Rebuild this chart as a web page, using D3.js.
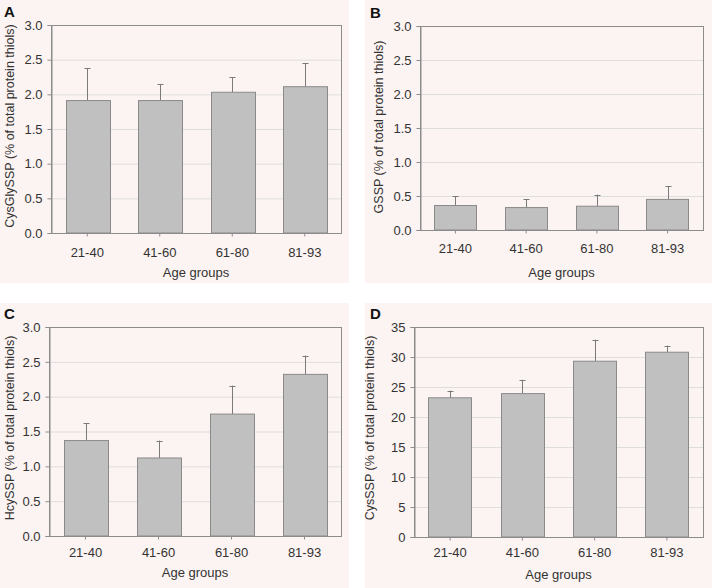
<!DOCTYPE html>
<html>
<head>
<meta charset="utf-8">
<script src="https://cdn.jsdelivr.net/npm/d3@7"></script>
<style>
  body { margin: 0; background: #ffffff; }
  svg { display: block; font-family: "Liberation Sans", Arial, sans-serif; }
</style>
</head>
<body>
<svg id="mySvg"></svg>
<script>
// data
const ageGroups = ["21-40", "41-60", "61-80", "81-93"];

const cysGlyMean = [1.91, 1.91, 2.03, 2.11];
const cysGlySd = [0.47, 0.24, 0.22, 0.34];

const gsspMean = [0.36, 0.33, 0.35, 0.45];
const gsspSd = [0.14, 0.12, 0.17, 0.19];

const hcyMean = [1.37, 1.12, 1.75, 2.32];
const hcySd = [0.25, 0.25, 0.41, 0.27];

const cysMean = [23.2, 23.9, 29.3, 30.8];
const cysSd = [1.2, 2.3, 3.6, 1.1];

const smallTicks = [0, 0.5, 1.0, 1.5, 2.0, 2.5, 3.0];
const cysTicks = [0, 5, 10, 15, 20, 25, 30, 35];

const width = 712;
const height = 588;

const svg = d3.select("#mySvg").attr("width", width).attr("height", height);

// panel boxes and plot areas
const panels = [
  { letter: "A", mean: cysGlyMean, sd: cysGlySd, ticks: smallTicks, max: 3, fmt: d3.format(".1f"),
    label: "CysGlySSP (% of total protein thiols)",
    bg: [0, 0, 349, 283], plot: [51, 25, 341, 233], labelX: 10, labelY: 126, tickY: 252, titleY: 272 },
  { letter: "B", mean: gsspMean, sd: gsspSd, ticks: smallTicks, max: 3, fmt: d3.format(".1f"),
    label: "GSSP (% of total protein thiols)",
    bg: [365, 0, 712, 283], plot: [420, 26, 703, 230], labelX: 379, labelY: 127, tickY: 248, titleY: 272 },
  { letter: "C", mean: hcyMean, sd: hcySd, ticks: smallTicks, max: 3, fmt: d3.format(".1f"),
    label: "HcySSP (% of total protein thiols)",
    bg: [0, 303, 349, 588], plot: [49, 327, 341, 536], labelX: 10, labelY: 428, tickY: 552, titleY: 572 },
  { letter: "D", mean: cysMean, sd: cysSd, ticks: cysTicks, max: 35, fmt: d3.format("d"),
    label: "CysSSP (% of total protein thiols)",
    bg: [365, 303, 712, 588], plot: [414, 327, 703, 537], labelX: 370, labelY: 428, tickY: 552, titleY: 574 }
];

const textColor = "#333";
const frameColor = "#8c8c8c";

panels.forEach(p => {
  const [bx0, by0, bx1, by1] = p.bg;
  const [x0, y0, x1, y1] = p.plot;

  svg.append("rect")
    .attr("x", bx0).attr("y", by0)
    .attr("width", bx1 - bx0).attr("height", by1 - by0)
    .attr("fill", "#fcf4f2");

  const xScale = d3.scaleBand().domain(ageGroups).range([x0, x1]).paddingInner(0.4).paddingOuter(0.2);
  const yScale = d3.scaleLinear().domain([0, p.max]).range([y1, y0]);

  // gridlines
  svg.append("g")
    .selectAll("line")
    .data(p.ticks.slice(1))
    .enter()
    .append("line")
    .attr("x1", x0).attr("x2", x1)
    .attr("y1", d => yScale(d) + 0.5).attr("y2", d => yScale(d) + 0.5)
    .attr("stroke", "#dedede");

  // frame
  svg.append("rect")
    .attr("x", x0 + 0.5).attr("y", y0 + 0.5)
    .attr("width", x1 - x0).attr("height", y1 - y0)
    .attr("fill", "none")
    .attr("stroke", frameColor);

  // error bars (upper only)
  const data = ageGroups.map((g, i) => ({ g, m: p.mean[i], s: p.sd[i] }));
  const cx = d => Math.round(xScale(d.g) + xScale.bandwidth() / 2) + 0.5;

  const err = svg.append("g").attr("stroke", "#7a7a7a");
  err.selectAll(".stem")
    .data(data).enter().append("line")
    .attr("x1", cx).attr("x2", cx)
    .attr("y1", d => yScale(d.m)).attr("y2", d => yScale(d.m + d.s));
  err.selectAll(".cap")
    .data(data).enter().append("line")
    .attr("x1", d => cx(d) - 3).attr("x2", d => cx(d) + 3)
    .attr("y1", d => Math.round(yScale(d.m + d.s)) + 0.5)
    .attr("y2", d => Math.round(yScale(d.m + d.s)) + 0.5);

  svg.selectAll(".bar" + p.letter)
    .data(data)
    .enter()
    .append("rect")
    .attr("x", d => Math.round(xScale(d.g)) + 0.5)
    .attr("y", d => yScale(d.m))
    .attr("width", Math.round(xScale.bandwidth()))
    .attr("height", d => y1 - yScale(d.m))
    .attr("fill", "#c0c0c0")
    .attr("stroke", "#8a8a8a");

  // y axis
  const yAxis = svg.append("g")
    .attr("transform", `translate(${x0 + 0.5},0)`)
    .call(d3.axisLeft(yScale).tickValues(p.ticks).tickFormat(p.fmt).tickSize(4).tickPadding(5));
  yAxis.select(".domain").attr("stroke", frameColor);
  yAxis.selectAll(".tick line").attr("stroke", frameColor);
  yAxis.selectAll("text").attr("fill", textColor).style("font-size", "13px")
    .style("font-family", "'Liberation Sans', Arial, sans-serif");

  // x axis
  const xAxis = svg.append("g")
    .attr("transform", `translate(0,${y1 + 0.5})`)
    .call(d3.axisBottom(xScale).tickSize(3).tickPadding(0));
  xAxis.select(".domain").remove();
  xAxis.selectAll(".tick line").attr("stroke", frameColor);
  xAxis.selectAll("text")
    .attr("y", p.tickY - y1)
    .attr("dy", "0.35em")
    .attr("fill", textColor)
    .style("font-size", "13px")
    .style("font-family", "'Liberation Sans', Arial, sans-serif");

  svg.append("text")
    .attr("x", (x0 + x1) / 2).attr("y", p.titleY)
    .attr("dy", "0.35em")
    .attr("text-anchor", "middle")
    .attr("fill", textColor)
    .style("font-size", "13px")
    .text("Age groups");

  svg.append("text")
    .attr("transform", `translate(${p.labelX},${p.labelY}) rotate(-90)`)
    .attr("dy", "0.35em")
    .attr("text-anchor", "middle")
    .attr("fill", textColor)
    .style("font-size", "12.5px")
    .text(p.label);

  svg.append("text")
    .attr("x", bx0 + (bx0 === 0 ? 4 : 5)).attr("y", p.plot[1] - 13)
    .attr("dy", "0.35em")
    .attr("fill", "#111")
    .style("font-size", "15px")
    .style("font-weight", "bold")
    .text(p.letter);
});
</script>
</body>
</html>
